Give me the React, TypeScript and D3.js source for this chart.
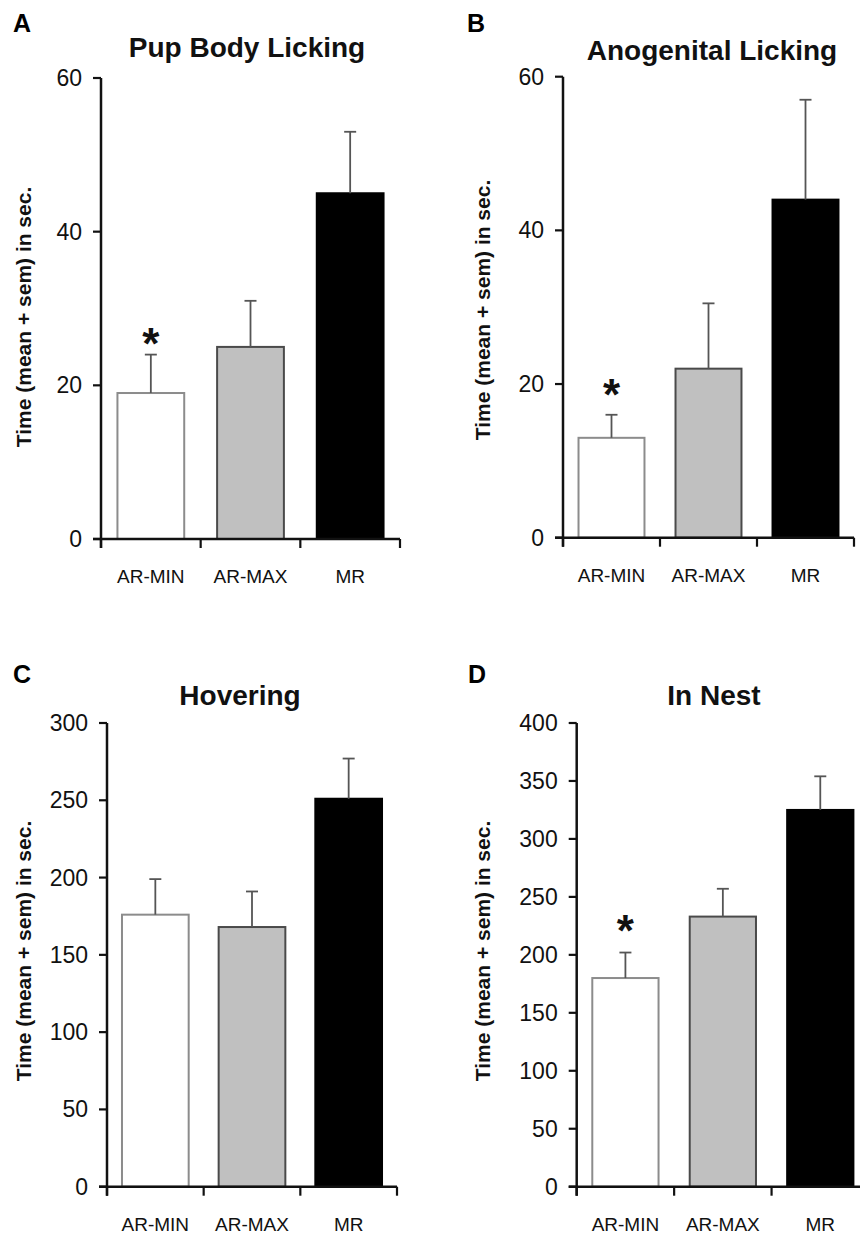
import React from "react";
import * as d3 from "d3";

// ---- data ----
const categories = ["AR-MIN", "AR-MAX", "MR"];

const pupBodyMeans = [19, 25, 45];
const pupBodySem = [5, 6, 8];

const anogenitalMeans = [13, 22, 44];
const anogenitalSem = [3, 8.5, 13];

const hoveringMeans = [176, 168, 251];
const hoveringSem = [23, 23, 26];

const inNestMeans = [180, 233, 325];
const inNestSem = [22, 24, 29];

const ticks60 = [0, 20, 40, 60];
const ticks300 = [0, 50, 100, 150, 200, 250, 300];
const ticks400 = [0, 50, 100, 150, 200, 250, 300, 350, 400];

// significance asterisk: category and the value level where it sits
const pupBodyStar = { category: "AR-MIN", level: 26.7 };
const anogenitalStar = { category: "AR-MIN", level: 19.9 };
const inNestStar = { category: "AR-MIN", level: 230 };

const yLabel = "Time (mean + sem) in sec.";

// ---- styles ----
const FONT = "Arial, 'Liberation Sans', Helvetica, sans-serif";
const barFill = ["#ffffff", "#c0c0c0", "#000000"];
const barStroke = ["#8c8c8c", "#4a4a4a", "#000000"];

type PanelDef = {
  letter: string;
  title: string;
  means: number[];
  sem: number[];
  ticks: number[];
  star: { category: string; level: number } | null;
  layout: {
    axisX: number;
    endX: number;
    y0: number;
    yTop: number;
    letterX: number;
    letterY: number;
    titleX: number;
    titleY: number;
    labelX: number;
    labelY: number;
    padding: number;
  };
};

const panels: PanelDef[] = [
  {
    letter: "A",
    title: "Pup Body Licking",
    means: pupBodyMeans,
    sem: pupBodySem,
    ticks: ticks60,
    star: pupBodyStar,
    layout: { axisX: 101, endX: 400, y0: 539, yTop: 78, letterX: 13, letterY: 32, titleX: 247, titleY: 57, labelX: 31, labelY: 317, padding: 0.33 },
  },
  {
    letter: "B",
    title: "Anogenital Licking",
    means: anogenitalMeans,
    sem: anogenitalSem,
    ticks: ticks60,
    star: anogenitalStar,
    layout: { axisX: 563, endX: 854, y0: 537.7, yTop: 76.7, letterX: 467, letterY: 32, titleX: 712, titleY: 60, labelX: 490, labelY: 310, padding: 0.32 },
  },
  {
    letter: "C",
    title: "Hovering",
    means: hoveringMeans,
    sem: hoveringSem,
    ticks: ticks300,
    star: null,
    layout: { axisX: 107, endX: 397, y0: 1186.7, yTop: 723, letterX: 13, letterY: 683, titleX: 240, titleY: 705, labelX: 31, labelY: 951, padding: 0.31 },
  },
  {
    letter: "D",
    title: "In Nest",
    means: inNestMeans,
    sem: inNestSem,
    ticks: ticks400,
    star: inNestStar,
    layout: { axisX: 576.7, endX: 869, y0: 1186.7, yTop: 723, letterX: 468, letterY: 683, titleX: 714, titleY: 705, labelX: 490, labelY: 951, padding: 0.32 },
  },
];

function Panel({ p }: { p: PanelDef }) {
  const L = p.layout;
  const maxTick = p.ticks[p.ticks.length - 1];
  const y = d3.scaleLinear().domain([0, maxTick]).range([L.y0, L.yTop]);
  const x = d3
    .scaleBand<string>()
    .domain(categories)
    .range([L.axisX, L.endX])
    .paddingInner(L.padding)
    .paddingOuter(L.padding / 2);
  const step = x.step();
  const boundaries = [0, 1, 2, 3].map((i) => L.axisX + i * step);
  const tickLen = 8;
  const capW = 12;

  return (
    <g>
      <text x={L.letterX} y={L.letterY} fontFamily={FONT} fontWeight="bold" fontSize={25} fill="#000">
        {p.letter}
      </text>
      <text x={L.titleX} y={L.titleY} textAnchor="middle" fontFamily={FONT} fontWeight="bold" fontSize={28} fill="#111">
        {p.title}
      </text>
      <text
        transform={`translate(${L.labelX},${L.labelY}) rotate(-90)`}
        textAnchor="middle"
        fontFamily={FONT}
        fontWeight="bold"
        fontSize={21}
        fill="#111"
      >
        {yLabel}
      </text>

      {/* bars */}
      {categories.map((c, i) => {
        const x0 = x(c)!;
        const top = y(p.means[i]);
        return (
          <rect
            key={c}
            x={x0}
            y={top}
            width={x.bandwidth()}
            height={L.y0 - top}
            fill={barFill[i]}
            stroke={barStroke[i]}
            strokeWidth={2}
          />
        );
      })}

      {/* error bars */}
      {categories.map((c, i) => {
        const cx = x(c)! + x.bandwidth() / 2;
        const top = y(p.means[i]);
        const et = y(p.means[i] + p.sem[i]);
        return (
          <g key={"e" + c} stroke="#555" strokeWidth={1.8}>
            <line x1={cx} x2={cx} y1={top} y2={et} />
            <line x1={cx - capW / 2} x2={cx + capW / 2} y1={et} y2={et} />
          </g>
        );
      })}

      {/* star */}
      {p.star && (
        <text
          x={x(p.star.category)! + x.bandwidth() / 2}
          y={y(p.star.level) + 0.58 * 44}
          textAnchor="middle"
          fontFamily={FONT}
          fontWeight="bold"
          fontSize={44}
          fill="#111"
        >
          *
        </text>
      )}

      {/* y axis */}
      <line x1={L.axisX} x2={L.axisX} y1={L.yTop} y2={L.y0 + 9} stroke="#111" strokeWidth={2.5} />
      {p.ticks.map((t) => (
        <g key={"t" + t}>
          <line x1={L.axisX - tickLen} x2={L.axisX} y1={y(t)} y2={y(t)} stroke="#111" strokeWidth={2.2} />
          <text
            x={L.axisX - 19}
            y={y(t) + 8}
            textAnchor="end"
            fontFamily={FONT}
            fontSize={23}
            fill="#111"
          >
            {t}
          </text>
        </g>
      ))}

      {/* x axis */}
      <line x1={L.axisX - tickLen} x2={L.endX} y1={L.y0} y2={L.y0} stroke="#111" strokeWidth={2.5} />
      {boundaries.map((bx, i) => (
        <line key={"b" + i} x1={bx} x2={bx} y1={L.y0} y2={L.y0 + 9} stroke="#111" strokeWidth={2.2} />
      ))}
      {categories.map((c) => (
        <text
          key={"c" + c}
          x={x(c)! + x.bandwidth() / 2}
          y={L.y0 + 44}
          textAnchor="middle"
          fontFamily={FONT}
          fontSize={19}
          fill="#111"
        >
          {c}
        </text>
      ))}
    </g>
  );
}

export default function App() {
  return (
    <svg
      width={860}
      height={1234}
      viewBox="0 0 860 1234"
      style={{ position: "absolute", left: 0, top: 0, background: "#fff" }}
    >
      <rect x={0} y={0} width={860} height={1234} fill="#fff" />
      {panels.map((p) => (
        <Panel key={p.letter} p={p} />
      ))}
    </svg>
  );
}
